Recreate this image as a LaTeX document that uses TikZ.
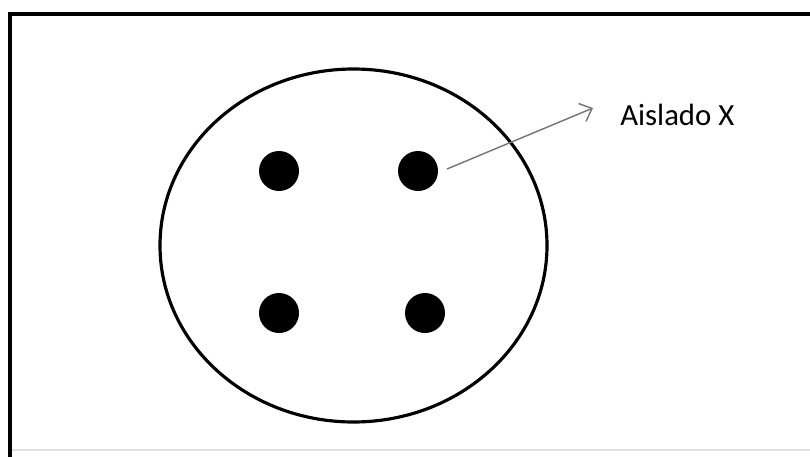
\documentclass[tikz,border=0pt]{standalone}
\usepackage{fontspec}
\setmainfont{Carlito}
\usetikzlibrary{arrows.meta}
\begin{document}
\begin{tikzpicture}[x=0.02cm, y=-0.02cm, font=\fontsize{17.5}{20}\selectfont]
			\useasboundingbox (0,0) rectangle (810,456);
			\fill[white] (0,0) rectangle (810,456);
			
			% marco recortado
			\draw[line width=2.3pt] (10,470) -- (10,14) -- (830,14);
			\draw[black!12, line width=1pt] (12,450) -- (810,450);
			
			\draw[line width=1.8pt] (353.5,245.5) ellipse (193.5 and 176.5);
			
			\coordinate (d1) at (279,171);
			\coordinate (d2) at (418,171);
			\coordinate (d3) at (279,313);
			\coordinate (d4) at (425,313);
			\foreach \d in {d1,d2,d3,d4}
				\fill (\d) circle (20);
			
			\coordinate (P) at (447,169); % borde del punto X
			\coordinate (Q) at (593,108);
			\draw[black!55, line width=0.8pt, -{Straight Barb[length=6pt, width=11pt]}] (P) -- (Q);
			
			\node[anchor=west, inner sep=0pt] (X) at (620,115) {Aislado X};
			
		\end{tikzpicture}
\end{document}
